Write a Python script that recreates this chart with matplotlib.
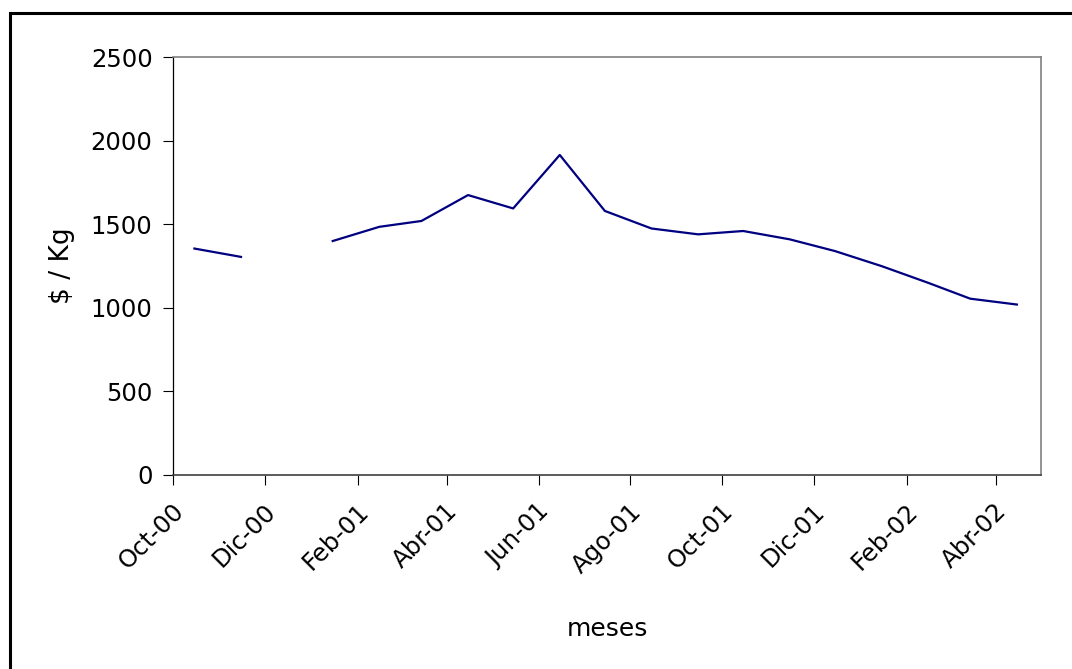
import numpy as np
import matplotlib
matplotlib.use('Agg')
import matplotlib.pyplot as plt
import matplotlib.dates as mdates
import matplotlib.transforms as mtransforms
from matplotlib.patches import Rectangle
from datetime import datetime

# precio mensual ($/Kg), dic-00 sin dato
meses = ['2000-10', '2000-11', '2000-12', '2001-01', '2001-02', '2001-03',
         '2001-04', '2001-05', '2001-06', '2001-07', '2001-08', '2001-09',
         '2001-10', '2001-11', '2001-12', '2002-01', '2002-02', '2002-03',
         '2002-04']
precio = [1355, 1305, np.nan, 1400, 1485, 1520,
          1675, 1595, 1915, 1580, 1475, 1440,
          1460, 1410, 1340, 1250, 1150, 1055,
          1020]

tick_fechas = ['2000-10', '2000-12', '2001-02', '2001-04', '2001-06',
               '2001-08', '2001-10', '2001-12', '2002-02', '2002-04']
tick_labels = ['Oct-00', 'Dic-00', 'Feb-01', 'Abr-01', 'Jun-01',
               'Ago-01', 'Oct-01', 'Dic-01', 'Feb-02', 'Abr-02']

plt.rcParams['font.family'] = ['DejaVu Sans']

x = [datetime.strptime(m + '-15', '%Y-%m-%d') for m in meses]
xt = [datetime.strptime(m + '-01', '%Y-%m-%d') for m in tick_fechas]

fig = plt.figure(figsize=(10.72, 6.69), dpi=100)
ax = fig.add_axes([0.1617, 0.29, 0.971 - 0.1617, 0.9145 - 0.29])

ax.plot(x, precio, color='#000080', linewidth=1.6)

ax.set_xlim(datetime(2000, 10, 1), datetime(2002, 5, 1))
ax.set_ylim(0, 2500)
ax.set_yticks([0, 500, 1000, 1500, 2000, 2500])
ax.set_xticks(mdates.date2num(xt))
ax.set_xticklabels(tick_labels, rotation=45, ha='right', va='center',
                   rotation_mode='anchor')

ax.tick_params(axis='both', direction='out', length=7, width=0.8,
               labelsize=17.5, colors='black')
ax.tick_params(axis='x', pad=16.5)
ax.tick_params(axis='y', pad=8)

# corrimiento de las etiquetas del eje x hacia la derecha
desp = mtransforms.ScaledTranslation(7 / 100, 0, fig.dpi_scale_trans)
for lab in ax.get_xticklabels():
    lab.set_transform(lab.get_transform() + desp)

for s in ['top', 'right']:
    ax.spines[s].set_color('#808080')
    ax.spines[s].set_linewidth(1.2)
ax.spines['left'].set_color('black')
ax.spines['bottom'].set_color('#404040')
ax.spines['left'].set_linewidth(0.9)
ax.spines['bottom'].set_linewidth(1.2)

ax.set_ylabel('$ / Kg', fontsize=19, labelpad=11)
ax.set_xlabel('meses', fontsize=18, labelpad=28)

# marco exterior (cortado a la derecha y abajo)
fig.patches.append(Rectangle((9.5 / 1072, -0.1), 1.2, 1 - 13.5 / 669 + 0.1,
                             transform=fig.transFigure, fill=False,
                             edgecolor='black', linewidth=2.2))

fig.savefig('out.png', dpi=100)
